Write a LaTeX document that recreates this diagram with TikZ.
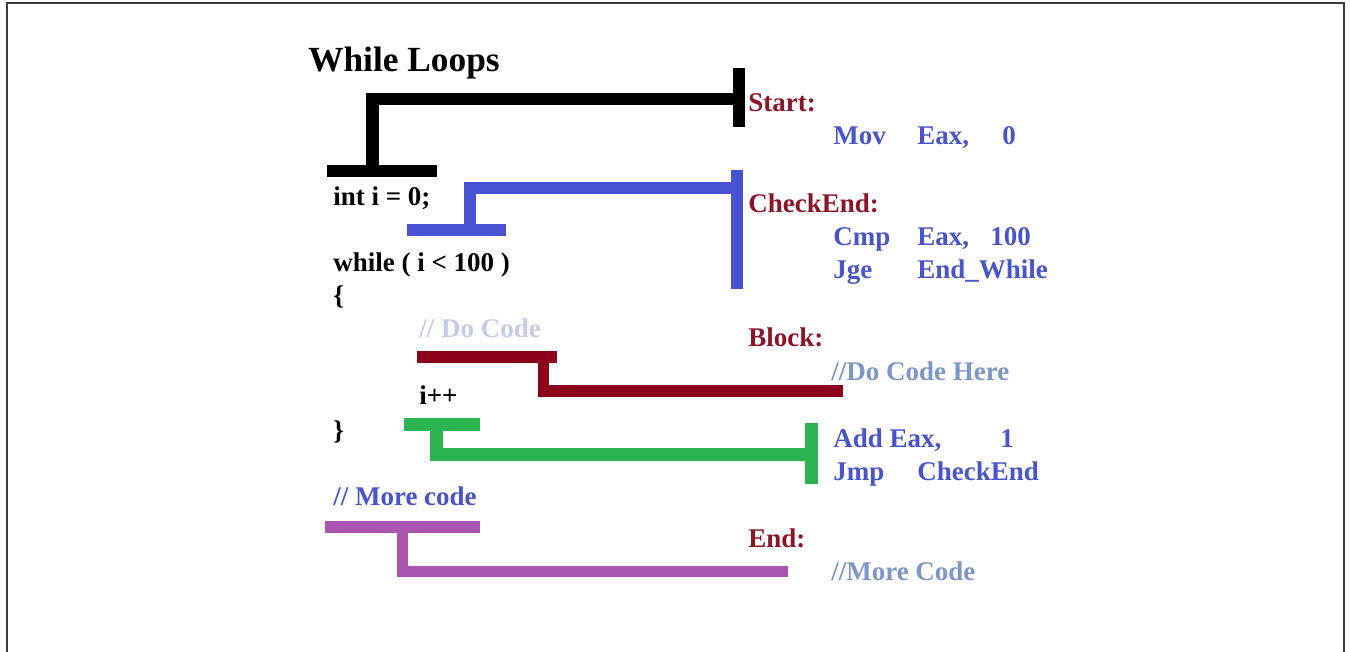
\documentclass[tikz,border=0pt]{standalone}
\usepackage{fontspec}
\setmainfont{Liberation Serif}
\definecolor{lblred}{RGB}{140,20,40}
\definecolor{codeblue}{RGB}{72,84,200}
\definecolor{cmtblue}{RGB}{125,150,200}
\definecolor{palecmt}{RGB}{200,202,232}
\definecolor{lnblue}{RGB}{72,82,210}
\definecolor{lnred}{RGB}{140,0,28}
\definecolor{lngreen}{RGB}{45,180,82}
\definecolor{lnpurple}{RGB}{170,85,175}
\definecolor{framegray}{RGB}{60,60,60}
\begin{document}
\begin{tikzpicture}[x=0.75pt,y=-0.75pt,
  txt/.style={anchor=base west,inner sep=0pt,font=\fontsize{20.25}{24}\selectfont\bfseries},
  code/.style={txt,text=black},
  lbl/.style={txt,text=lblred},
  asm/.style={txt,text=codeblue},
  cmt/.style={txt,text=cmtblue},
  link/.style={line width=9.4pt,line join=miter,line cap=butt}]
\useasboundingbox (0,0) rectangle (1350,652);
\draw[framegray,line width=1.3pt] (7,660) -- (7,3) -- (1344,3) -- (1344,660);

% title
\node[txt,font=\fontsize{26.5}{30}\selectfont\bfseries] (title) at (308,72) {While Loops};

% left code
\node[code] (c1) at (333,206) {int i = 0;};
\node[code] (c2) at (333,272) {while ( i < 100 )};
\node[code] (c3) at (333,305) {\{};
\node[txt,text=palecmt] (c4) at (419,338) {// Do Code};
\node[code] (c5) at (419,404) {i++};
\node[code] (c6) at (333,439) {\}};
\node[txt,text=codeblue] (c7) at (333,505) {// More code};

% right assembly
\node[lbl] (start) at (748,112) {Start:};
\node[asm] (a1) at (833,145) {Mov};
\node[asm] (a1b) at (917,145) {Eax,};
\node[asm] (a1c) at (1002,145) {0};
\node[lbl] (check) at (748,213) {CheckEnd:};
\node[asm] (a2) at (833,246) {Cmp};
\node[asm] (a2b) at (917,246) {Eax,};
\node[asm] (a2c) at (990,246) {100};
\node[asm] (a3) at (833,279) {Jge};
\node[asm] (a3b) at (917,279) {End\_While};
\node[lbl] (block) at (748,347) {Block:};
\node[cmt] (a4) at (831,380) {//Do Code Here};
\node[asm] (a5) at (833,447) {Add Eax,};
\node[asm] (a5c) at (1000,447) {1};
\node[asm] (a6) at (833,480) {Jmp};
\node[asm] (a6b) at (917,480) {CheckEnd};
\node[lbl] (endl) at (748,547) {End:};
\node[cmt] (a7) at (831,580) {//More Code};

% connector end points
\coordinate (k1a) at (327,171); \coordinate (k1b) at (437,171);
\coordinate (k1m) at (372.5,171);
\coordinate (k1r) at (739,99);
\coordinate (k1t) at (739,68); \coordinate (k1u) at (739,127);

\coordinate (b1a) at (407,230); \coordinate (b1b) at (506,230);
\coordinate (b1m) at (470,230);
\coordinate (b1r) at (737,188);
\coordinate (b1t) at (737,170); \coordinate (b1u) at (737,289);

\coordinate (r1a) at (417,357); \coordinate (r1b) at (557,357);
\coordinate (r1m) at (543.5,357);
\coordinate (r1r) at (843,391);

\coordinate (g1a) at (404,424.5); \coordinate (g1b) at (480,424.5);
\coordinate (g1m) at (436.5,424.5);
\coordinate (g1r) at (811.5,454.5);
\coordinate (g1t) at (811.5,423); \coordinate (g1u) at (811.5,484);

\coordinate (p1a) at (325,527); \coordinate (p1b) at (480,527);
\coordinate (p1m) at (402.5,527);
\coordinate (p1r) at (788,571.5);

% black
\draw[link,black] (k1a) -- (k1b);
\draw[link,black] (k1t) -- (k1u);
\draw[link,black] (k1m) |- (k1r);
% blue
\draw[link,lnblue,line width=8.6pt] (b1a) -- (b1b);
\draw[link,lnblue,line width=8.6pt] (b1t) -- (b1u);
\draw[link,lnblue,line width=8.6pt] (b1m) |- (b1r);
% red
\draw[link,lnred,line width=8.6pt] (r1a) -- (r1b);
\draw[link,lnred,line width=8.6pt] (r1m) |- (r1r);
% green
\draw[link,lngreen,line width=9.4pt] (g1a) -- (g1b);
\draw[link,lngreen,line width=9.4pt] (g1t) -- (g1u);
\draw[link,lngreen,line width=9.4pt] (g1m) |- (g1r);
% purple
\draw[link,lnpurple,line width=8.6pt] (p1a) -- (p1b);
\draw[link,lnpurple,line width=8.6pt] (p1m) |- (p1r);
\end{tikzpicture}
\end{document}
